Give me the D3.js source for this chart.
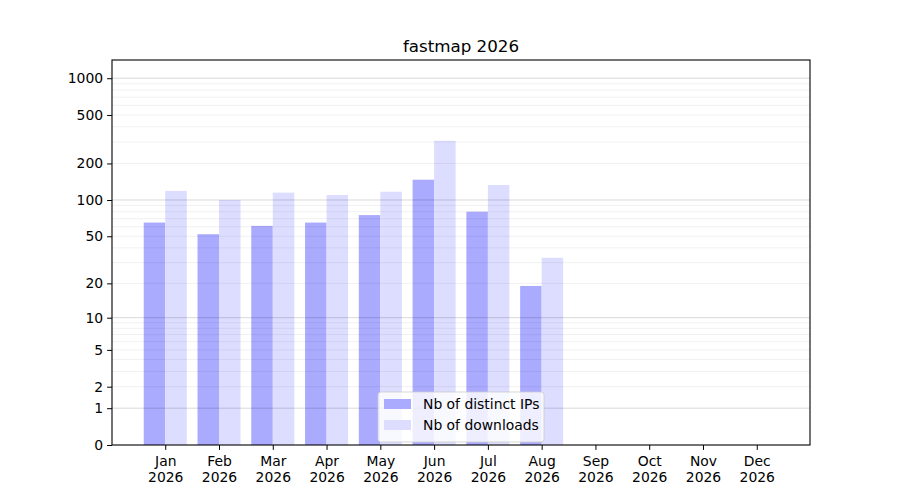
<!DOCTYPE html>
<html>
<head>
<meta charset="utf-8">
<script src="https://cdn.jsdelivr.net/npm/d3@7"></script>
<style>
  body { margin: 0; background: #fff; }
  text { font-family: "DejaVu Sans", sans-serif; }
</style>
</head>
<body>
<div id="container"></div>
<script>
var months = ["Jan", "Feb", "Mar", "Apr", "May", "Jun", "Jul", "Aug", "Sep", "Oct", "Nov", "Dec"];
var year = "2026";
var ips = [65, 52, 61, 65, 75, 147, 80, 19, 0, 0, 0, 0];
var downloads = [119, 100, 115, 110, 117, 307, 133, 33, 0, 0, 0, 0];
var yTicks = [0, 1, 2, 5, 10, 20, 50, 100, 200, 500, 1000];
var majorGrid = [1, 10, 100, 1000];

var width = 900, height = 500;
var mLeft = 112, mRight = 810, mTop = 60, mBottom = 445;

var svg = d3.select("#container")
  .append("svg")
  .attr("width", width)
  .attr("height", height);

var x = d3.scaleLinear()
  .domain([-0.99, 11.99])
  .range([mLeft, mRight]);

var y = d3.scaleSymlog()
  .constant(1)
  .domain([0, 1410])
  .range([mBottom, mTop]);

var bw = x(0.4) - x(0);

// bars
svg.append("g").selectAll("rect")
  .data(ips)
  .enter()
  .append("rect")
  .attr("x", function(d, i) { return x(i - 0.4); })
  .attr("y", function(d) { return y(d); })
  .attr("width", bw)
  .attr("height", function(d) { return y(0) - y(d); })
  .style("fill", "#aaaaff");

svg.append("g").selectAll("rect")
  .data(downloads)
  .enter()
  .append("rect")
  .attr("x", function(d, i) { return x(i); })
  .attr("y", function(d) { return y(d); })
  .attr("width", bw)
  .attr("height", function(d) { return y(0) - y(d); })
  .style("fill", "#ddddff");

// grid (on top of bars, like matplotlib)
var minor = [];
[1, 10, 100, 1000].forEach(function(b) {
  for (var k = 2; k <= 9; k++) if (b * k < 1410) minor.push(b * k);
});

svg.append("g").selectAll("line")
  .data(minor)
  .enter()
  .append("line")
  .attr("x1", mLeft).attr("x2", mRight)
  .attr("y1", function(d) { return y(d); })
  .attr("y2", function(d) { return y(d); })
  .style("stroke", "#000")
  .style("stroke-opacity", 0.08)
  .style("stroke-width", 0.8);

svg.append("g").selectAll("line")
  .data(majorGrid)
  .enter()
  .append("line")
  .attr("x1", mLeft).attr("x2", mRight)
  .attr("y1", function(d) { return y(d); })
  .attr("y2", function(d) { return y(d); })
  .style("stroke", "#000")
  .style("stroke-opacity", 0.2)
  .style("stroke-width", 0.8);

// axes
var yAxis = d3.axisLeft(y)
  .tickValues(yTicks)
  .tickFormat(d3.format("d"))
  .tickSize(4.9)
  .tickPadding(4);

var gy = svg.append("g")
  .attr("transform", "translate(" + mLeft + ",0)")
  .call(yAxis);
gy.select(".domain").remove();
gy.selectAll("text").style("font-size", "13.9px").style("fill", "#000");

var xAxis = d3.axisBottom(x)
  .tickValues(d3.range(months.length))
  .tickFormat("")
  .tickSize(4.9);

var gx = svg.append("g")
  .attr("transform", "translate(0," + mBottom + ")")
  .call(xAxis);
gx.select(".domain").remove();

gx.selectAll(".tick").each(function(d) {
  var t = d3.select(this).select("text")
    .attr("y", 0)
    .attr("dy", null)
    .style("font-size", "13.9px")
    .style("fill", "#000");
  t.append("tspan").attr("x", 0).attr("y", 21).text(months[d]);
  t.append("tspan").attr("x", 0).attr("y", 37).text(year);
});

svg.append("rect")
  .attr("x", mLeft).attr("y", mTop)
  .attr("width", mRight - mLeft).attr("height", mBottom - mTop)
  .style("fill", "none")
  .style("stroke", "#000")
  .style("stroke-width", 1.1);

// title
svg.append("text")
  .attr("x", (mLeft + mRight) / 2)
  .attr("y", 52)
  .attr("text-anchor", "middle")
  .style("font-size", "16.7px")
  .text("fastmap 2026");

// legend
var legend = svg.append("g").attr("transform", "translate(378,392)");
legend.append("rect")
  .attr("width", 166).attr("height", 50)
  .attr("rx", 3)
  .style("fill", "#fff")
  .style("fill-opacity", 0.8)
  .style("stroke", "#ccc")
  .style("stroke-opacity", 0.8);

var items = [["Nb of distinct IPs", "#aaaaff"], ["Nb of downloads", "#ddddff"]];
items.forEach(function(it, i) {
  legend.append("rect")
    .attr("x", 6).attr("y", 7 + i * 21)
    .attr("width", 27).attr("height", 10)
    .style("fill", it[1]);
  legend.append("text")
    .attr("x", 45).attr("y", 17 + i * 21)
    .style("font-size", "13.9px")
    .text(it[0]);
});
</script>
</body>
</html>
